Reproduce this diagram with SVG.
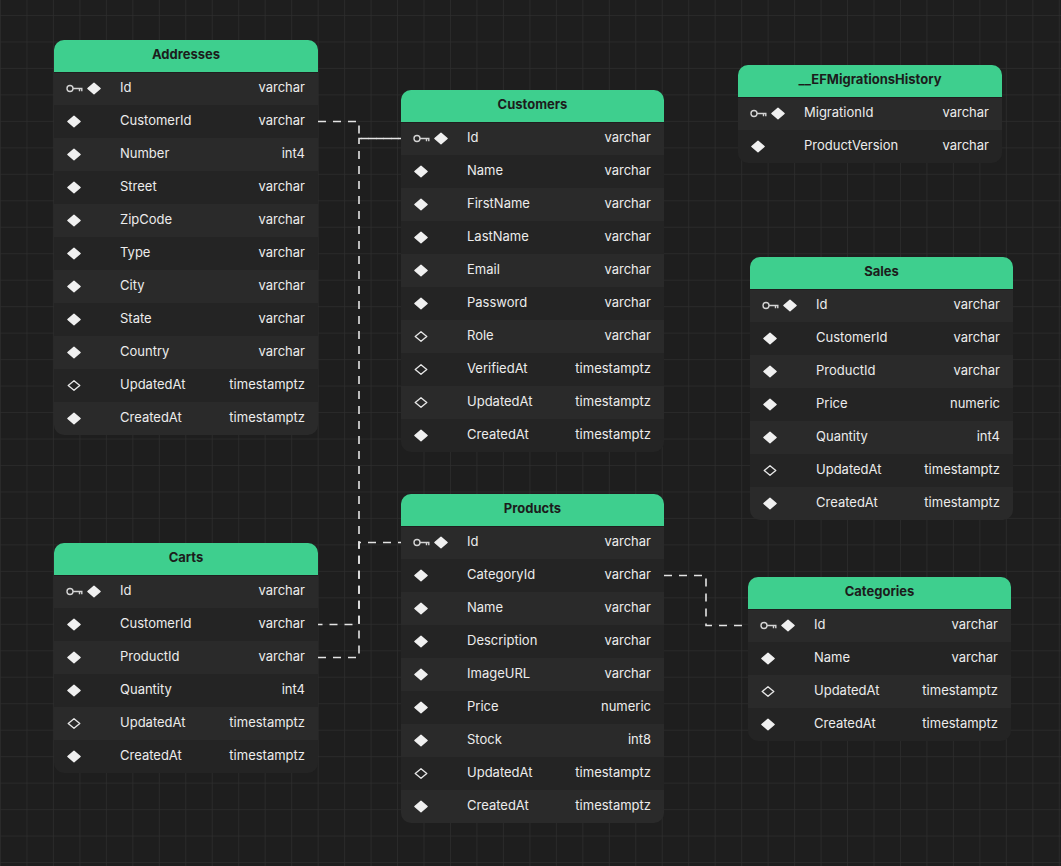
<svg xmlns="http://www.w3.org/2000/svg" xmlns:xlink="http://www.w3.org/1999/xlink" width="1061" height="866" viewBox="0 0 1061 866">
<style>
.hd{fill:#3ecf8e}
.ht{font-family:Inter,"Liberation Sans",sans-serif;font-weight:700;font-size:13px;fill:#1c1c1c;text-anchor:middle}
.fn{font-family:Inter,"Liberation Sans",sans-serif;font-size:13px;fill:#ececec}
.ft{font-family:Inter,"Liberation Sans",sans-serif;font-size:13px;fill:#ececec;text-anchor:end}
.lt{fill:#2a2a2a}
.dk{fill:#242424}
.sep{fill:#1f1f1f}
.edge{fill:none;stroke:#e4e4e4;stroke-width:1.6;stroke-dasharray:8 7}
</style>
<defs>
<pattern id="grid" width="26.47" height="26.47" x="0" y="15" patternUnits="userSpaceOnUse">
<path d="M0 0H26.47M0 0V26.47" fill="none" stroke="#2d2d2d" stroke-width="1.5"/>
</pattern>
<path id="dF" d="M0,-5.3 L6.1,0 L0,5.3 L-6.1,0Z" fill="#f0f0f0" stroke="#f0f0f0" stroke-width="1.4" stroke-linejoin="round"/>
<path id="dH" d="M0,-4.8 L5.8,0 L0,4.8 L-5.8,0Z" fill="none" stroke="#e8e8e8" stroke-width="1.3" stroke-linejoin="round"/>
<g id="k"><circle cx="0" cy="0" r="3" fill="none" stroke="#d4d4d4" stroke-width="1.4"/><path d="M3,0H12.5M9.5,0V2.8M11.8,0V2.8" stroke="#d4d4d4" stroke-width="1.4" fill="none"/></g>
</defs>
<rect width="1061" height="866" fill="#1e1e1e"/>
<rect width="1061" height="866" fill="url(#grid)"/>

<g id="connectors">
<path class="edge" d="M318,121.5H359V138.5H401"/>
<path class="edge" d="M318,624.5H359V138.5H401" stroke-dashoffset="3.5"/>
<path class="edge" d="M318,657.5H359V542.5H401"/>
<path class="edge" d="M664,575.5H706V625.5H748"/>
</g>

<g id="addresses" transform="translate(54,40)">
<rect class="lt" width="264" height="395" rx="10"/>
<path class="hd" d="M0,32V10A10,10 0 0 1 10,0H254A10,10 0 0 1 264,10V32Z"/>
<rect class="dk" y="65" width="264" height="33"/><rect class="dk" y="131" width="264" height="33"/><rect class="dk" y="197" width="264" height="33"/><rect class="dk" y="263" width="264" height="33"/><rect class="dk" y="329" width="264" height="33"/>
<rect class="sep" y="32" width="264" height="1"/>
<text class="ht" x="132" y="19">Addresses</text>
<use href="#k" x="16" y="48.5"/><use href="#dF" x="40" y="48.5"/><text class="fn" x="66" y="52">Id</text><text class="ft" x="251" y="52">varchar</text>
<use href="#dF" x="20" y="81.5"/><text class="fn" x="66" y="85">CustomerId</text><text class="ft" x="251" y="85">varchar</text>
<use href="#dF" x="20" y="114.5"/><text class="fn" x="66" y="118">Number</text><text class="ft" x="251" y="118">int4</text>
<use href="#dF" x="20" y="147.5"/><text class="fn" x="66" y="151">Street</text><text class="ft" x="251" y="151">varchar</text>
<use href="#dF" x="20" y="180.5"/><text class="fn" x="66" y="184">ZipCode</text><text class="ft" x="251" y="184">varchar</text>
<use href="#dF" x="20" y="213.5"/><text class="fn" x="66" y="217">Type</text><text class="ft" x="251" y="217">varchar</text>
<use href="#dF" x="20" y="246.5"/><text class="fn" x="66" y="250">City</text><text class="ft" x="251" y="250">varchar</text>
<use href="#dF" x="20" y="279.5"/><text class="fn" x="66" y="283">State</text><text class="ft" x="251" y="283">varchar</text>
<use href="#dF" x="20" y="312.5"/><text class="fn" x="66" y="316">Country</text><text class="ft" x="251" y="316">varchar</text>
<use href="#dH" x="20" y="345.5"/><text class="fn" x="66" y="349">UpdatedAt</text><text class="ft" x="251" y="349">timestamptz</text>
<use href="#dF" x="20" y="378.5"/><text class="fn" x="66" y="382">CreatedAt</text><text class="ft" x="251" y="382">timestamptz</text>
</g>

<g id="customers" transform="translate(401,90)">
<rect class="dk" width="263" height="362" rx="10"/>
<path class="hd" d="M0,32V10A10,10 0 0 1 10,0H253A10,10 0 0 1 263,10V32Z"/>
<rect class="lt" y="32" width="263" height="33"/><rect class="lt" y="98" width="263" height="33"/><rect class="lt" y="164" width="263" height="33"/><rect class="lt" y="230" width="263" height="33"/><rect class="lt" y="296" width="263" height="33"/>
<rect class="sep" y="32" width="263" height="1"/>
<text class="ht" x="131.5" y="19">Customers</text>
<use href="#k" x="16" y="48.5"/><use href="#dF" x="40" y="48.5"/><text class="fn" x="66" y="52">Id</text><text class="ft" x="250" y="52">varchar</text>
<use href="#dF" x="20" y="81.5"/><text class="fn" x="66" y="85">Name</text><text class="ft" x="250" y="85">varchar</text>
<use href="#dF" x="20" y="114.5"/><text class="fn" x="66" y="118">FirstName</text><text class="ft" x="250" y="118">varchar</text>
<use href="#dF" x="20" y="147.5"/><text class="fn" x="66" y="151">LastName</text><text class="ft" x="250" y="151">varchar</text>
<use href="#dF" x="20" y="180.5"/><text class="fn" x="66" y="184">Email</text><text class="ft" x="250" y="184">varchar</text>
<use href="#dF" x="20" y="213.5"/><text class="fn" x="66" y="217">Password</text><text class="ft" x="250" y="217">varchar</text>
<use href="#dH" x="20" y="246.5"/><text class="fn" x="66" y="250">Role</text><text class="ft" x="250" y="250">varchar</text>
<use href="#dH" x="20" y="279.5"/><text class="fn" x="66" y="283">VerifiedAt</text><text class="ft" x="250" y="283">timestamptz</text>
<use href="#dH" x="20" y="312.5"/><text class="fn" x="66" y="316">UpdatedAt</text><text class="ft" x="250" y="316">timestamptz</text>
<use href="#dF" x="20" y="345.5"/><text class="fn" x="66" y="349">CreatedAt</text><text class="ft" x="250" y="349">timestamptz</text>
</g>

<g id="efmigrationshistory" transform="translate(738,65)">
<rect class="dk" width="264" height="98" rx="10"/>
<path class="hd" d="M0,32V10A10,10 0 0 1 10,0H254A10,10 0 0 1 264,10V32Z"/>
<rect class="lt" y="32" width="264" height="33"/>
<rect class="sep" y="32" width="264" height="1"/>
<text class="ht" x="132" y="19">__EFMigrationsHistory</text>
<use href="#k" x="16" y="48.5"/><use href="#dF" x="40" y="48.5"/><text class="fn" x="66" y="52">MigrationId</text><text class="ft" x="251" y="52">varchar</text>
<use href="#dF" x="20" y="81.5"/><text class="fn" x="66" y="85">ProductVersion</text><text class="ft" x="251" y="85">varchar</text>
</g>

<g id="sales" transform="translate(750,257)">
<rect class="lt" width="263" height="263" rx="10"/>
<path class="hd" d="M0,32V10A10,10 0 0 1 10,0H253A10,10 0 0 1 263,10V32Z"/>
<rect class="dk" y="65" width="263" height="33"/><rect class="dk" y="131" width="263" height="33"/><rect class="dk" y="197" width="263" height="33"/>
<rect class="sep" y="32" width="263" height="1"/>
<text class="ht" x="131.5" y="19">Sales</text>
<use href="#k" x="16" y="48.5"/><use href="#dF" x="40" y="48.5"/><text class="fn" x="66" y="52">Id</text><text class="ft" x="250" y="52">varchar</text>
<use href="#dF" x="20" y="81.5"/><text class="fn" x="66" y="85">CustomerId</text><text class="ft" x="250" y="85">varchar</text>
<use href="#dF" x="20" y="114.5"/><text class="fn" x="66" y="118">ProductId</text><text class="ft" x="250" y="118">varchar</text>
<use href="#dF" x="20" y="147.5"/><text class="fn" x="66" y="151">Price</text><text class="ft" x="250" y="151">numeric</text>
<use href="#dF" x="20" y="180.5"/><text class="fn" x="66" y="184">Quantity</text><text class="ft" x="250" y="184">int4</text>
<use href="#dH" x="20" y="213.5"/><text class="fn" x="66" y="217">UpdatedAt</text><text class="ft" x="250" y="217">timestamptz</text>
<use href="#dF" x="20" y="246.5"/><text class="fn" x="66" y="250">CreatedAt</text><text class="ft" x="250" y="250">timestamptz</text>
</g>

<g id="products" transform="translate(401,494)">
<rect class="lt" width="263" height="329" rx="10"/>
<path class="hd" d="M0,32V10A10,10 0 0 1 10,0H253A10,10 0 0 1 263,10V32Z"/>
<rect class="dk" y="65" width="263" height="33"/><rect class="dk" y="131" width="263" height="33"/><rect class="dk" y="197" width="263" height="33"/><rect class="dk" y="263" width="263" height="33"/>
<rect class="sep" y="32" width="263" height="1"/>
<text class="ht" x="131.5" y="19">Products</text>
<use href="#k" x="16" y="48.5"/><use href="#dF" x="40" y="48.5"/><text class="fn" x="66" y="52">Id</text><text class="ft" x="250" y="52">varchar</text>
<use href="#dF" x="20" y="81.5"/><text class="fn" x="66" y="85">CategoryId</text><text class="ft" x="250" y="85">varchar</text>
<use href="#dF" x="20" y="114.5"/><text class="fn" x="66" y="118">Name</text><text class="ft" x="250" y="118">varchar</text>
<use href="#dF" x="20" y="147.5"/><text class="fn" x="66" y="151">Description</text><text class="ft" x="250" y="151">varchar</text>
<use href="#dF" x="20" y="180.5"/><text class="fn" x="66" y="184">ImageURL</text><text class="ft" x="250" y="184">varchar</text>
<use href="#dF" x="20" y="213.5"/><text class="fn" x="66" y="217">Price</text><text class="ft" x="250" y="217">numeric</text>
<use href="#dF" x="20" y="246.5"/><text class="fn" x="66" y="250">Stock</text><text class="ft" x="250" y="250">int8</text>
<use href="#dH" x="20" y="279.5"/><text class="fn" x="66" y="283">UpdatedAt</text><text class="ft" x="250" y="283">timestamptz</text>
<use href="#dF" x="20" y="312.5"/><text class="fn" x="66" y="316">CreatedAt</text><text class="ft" x="250" y="316">timestamptz</text>
</g>

<g id="carts" transform="translate(54,543)">
<rect class="dk" width="264" height="230" rx="10"/>
<path class="hd" d="M0,32V10A10,10 0 0 1 10,0H254A10,10 0 0 1 264,10V32Z"/>
<rect class="lt" y="32" width="264" height="33"/><rect class="lt" y="98" width="264" height="33"/><rect class="lt" y="164" width="264" height="33"/>
<rect class="sep" y="32" width="264" height="1"/>
<text class="ht" x="132" y="19">Carts</text>
<use href="#k" x="16" y="48.5"/><use href="#dF" x="40" y="48.5"/><text class="fn" x="66" y="52">Id</text><text class="ft" x="251" y="52">varchar</text>
<use href="#dF" x="20" y="81.5"/><text class="fn" x="66" y="85">CustomerId</text><text class="ft" x="251" y="85">varchar</text>
<use href="#dF" x="20" y="114.5"/><text class="fn" x="66" y="118">ProductId</text><text class="ft" x="251" y="118">varchar</text>
<use href="#dF" x="20" y="147.5"/><text class="fn" x="66" y="151">Quantity</text><text class="ft" x="251" y="151">int4</text>
<use href="#dH" x="20" y="180.5"/><text class="fn" x="66" y="184">UpdatedAt</text><text class="ft" x="251" y="184">timestamptz</text>
<use href="#dF" x="20" y="213.5"/><text class="fn" x="66" y="217">CreatedAt</text><text class="ft" x="251" y="217">timestamptz</text>
</g>

<g id="categories" transform="translate(748,577)">
<rect class="dk" width="263" height="164" rx="10"/>
<path class="hd" d="M0,32V10A10,10 0 0 1 10,0H253A10,10 0 0 1 263,10V32Z"/>
<rect class="lt" y="32" width="263" height="33"/><rect class="lt" y="98" width="263" height="33"/>
<rect class="sep" y="32" width="263" height="1"/>
<text class="ht" x="131.5" y="19">Categories</text>
<use href="#k" x="16" y="48.5"/><use href="#dF" x="40" y="48.5"/><text class="fn" x="66" y="52">Id</text><text class="ft" x="250" y="52">varchar</text>
<use href="#dF" x="20" y="81.5"/><text class="fn" x="66" y="85">Name</text><text class="ft" x="250" y="85">varchar</text>
<use href="#dH" x="20" y="114.5"/><text class="fn" x="66" y="118">UpdatedAt</text><text class="ft" x="250" y="118">timestamptz</text>
<use href="#dF" x="20" y="147.5"/><text class="fn" x="66" y="151">CreatedAt</text><text class="ft" x="250" y="151">timestamptz</text>
</g>
</svg>
